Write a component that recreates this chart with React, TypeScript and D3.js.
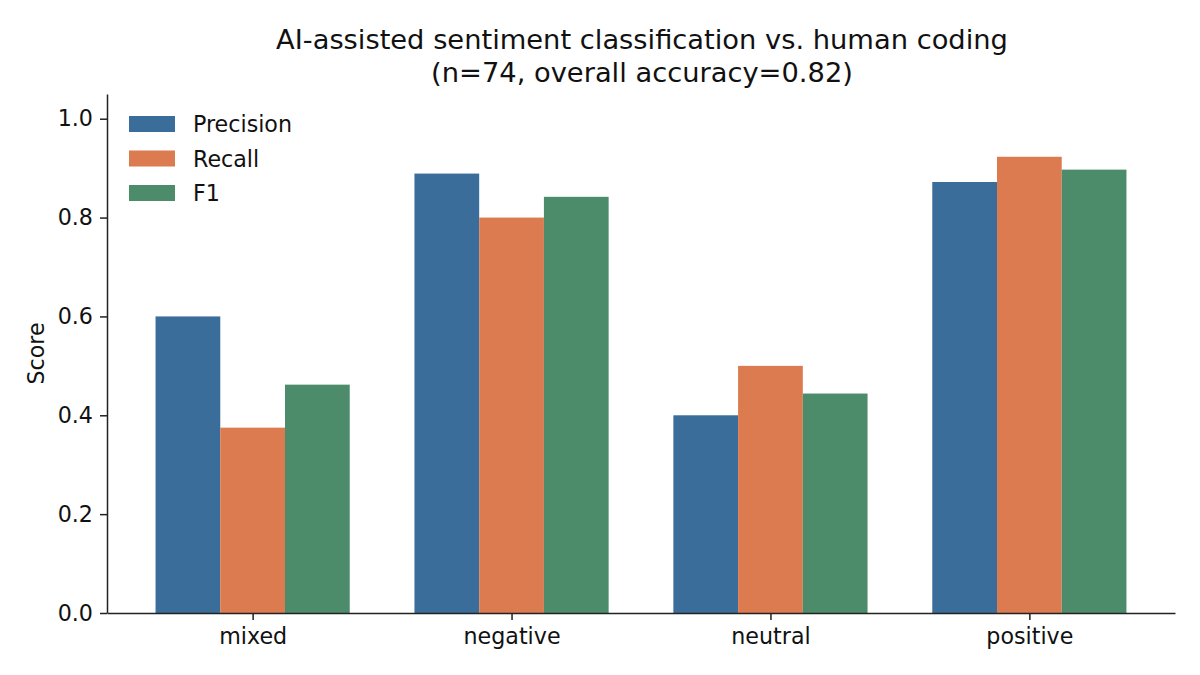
import React, { useEffect, useRef } from "react";
import * as d3 from "d3";

const categories = ["mixed", "negative", "neutral", "positive"];
const seriesNames = ["Precision", "Recall", "F1"];
const precision = [0.6, 0.889, 0.4, 0.872];
const recall = [0.375, 0.8, 0.5, 0.923];
const f1 = [0.462, 0.842, 0.444, 0.897];
const colors = ["#3b6d9b", "#dc7b4f", "#4c8c6b"];
const yTicks = [0, 0.2, 0.4, 0.6, 0.8, 1.0];

const App: React.FC = () => {
  const svgRef = useRef<SVGSVGElement | null>(null);

  useEffect(() => {
    if (!svgRef.current) return;
    const svg = d3.select(svgRef.current);
    svg.selectAll("*").remove();

    const margin = { top: 94, right: 25, bottom: 62, left: 107 };
    const width = 1200 - margin.left - margin.right;
    const height = 675 - margin.top - margin.bottom;
    const font = "'DejaVu Sans', sans-serif";
    const fs = "22.2px";
    const series = [precision, recall, f1];

    // category index -> pixel, with matplotlib-like margins
    const x = d3.scaleLinear().domain([-0.5625, 3.5625]).range([0, width]);
    const y = d3.scaleLinear().domain([0, 1.05]).range([height, 0]);
    const barW = 0.25;

    const g = svg
      .append("g")
      .attr("transform", `translate(${margin.left},${margin.top})`);

    series.forEach((vals, si) => {
      g.selectAll(`rect.s${si}`)
        .data(vals)
        .enter()
        .append("rect")
        .attr("x", (_, i) => x(i + (si - 1) * barW - barW / 2))
        .attr("width", x(barW) - x(0))
        .attr("y", (d) => y(d))
        .attr("height", (d) => height - y(d))
        .attr("fill", colors[si]);
    });

    const xAxis = d3
      .axisBottom(x)
      .tickValues([0, 1, 2, 3])
      .tickFormat((d) => categories[d as number])
      .tickSize(7)
      .tickSizeOuter(0);
    const gx = g
      .append("g")
      .attr("transform", `translate(0,${height})`)
      .call(xAxis);
    gx.attr("font-family", null).attr("font-size", null);
    gx.selectAll("text")
      .style("font-family", font)
      .style("font-size", fs)
      .attr("fill", "#111")
      .attr("y", 31)
      .attr("dy", 0);

    const yAxis = d3
      .axisLeft(y)
      .tickValues(yTicks)
      .tickFormat(d3.format(".1f"))
      .tickSize(7)
      .tickSizeOuter(0);
    const gy = g.append("g").call(yAxis);
    gy.attr("font-family", null).attr("font-size", null);
    gy.selectAll("text")
      .style("font-family", font)
      .style("font-size", fs)
      .attr("fill", "#111")
      .attr("x", -14);

    svg.selectAll(".domain, .tick line")
      .attr("stroke", "#222")
      .attr("stroke-width", 1.5);

    g.append("text")
      .attr("transform", `translate(-63,${height / 2}) rotate(-90)`)
      .attr("text-anchor", "middle")
      .style("font-family", font)
      .style("font-size", fs)
      .attr("fill", "#111")
      .text("Score");

    const cx = margin.left + width / 2 + 1;
    const title = svg
      .append("text")
      .attr("text-anchor", "middle")
      .style("font-family", font)
      .style("font-size", "27.3px")
      .attr("fill", "#111");
    title.append("tspan").attr("x", cx).attr("y", 49)
      .text("AI-assisted sentiment classification vs. human coding");
    title.append("tspan").attr("x", cx).attr("y", 82)
      .text("(n=74, overall accuracy=0.82)");

    const legend = svg.append("g").attr("transform", "translate(129,116)");
    seriesNames.forEach((name, i) => {
      const row = legend.append("g").attr("transform", `translate(0,${i * 34.5})`);
      row.append("rect").attr("width", 46).attr("height", 16).attr("fill", colors[i]);
      row.append("text")
        .attr("x", 64)
        .attr("y", 16)
        .style("font-family", font)
        .style("font-size", fs)
        .attr("fill", "#111")
        .text(name);
    });
  }, []);

  return <svg ref={svgRef} width={1200} height={675} style={{ display: "block", margin: -8 }} />;
};

export default App;
